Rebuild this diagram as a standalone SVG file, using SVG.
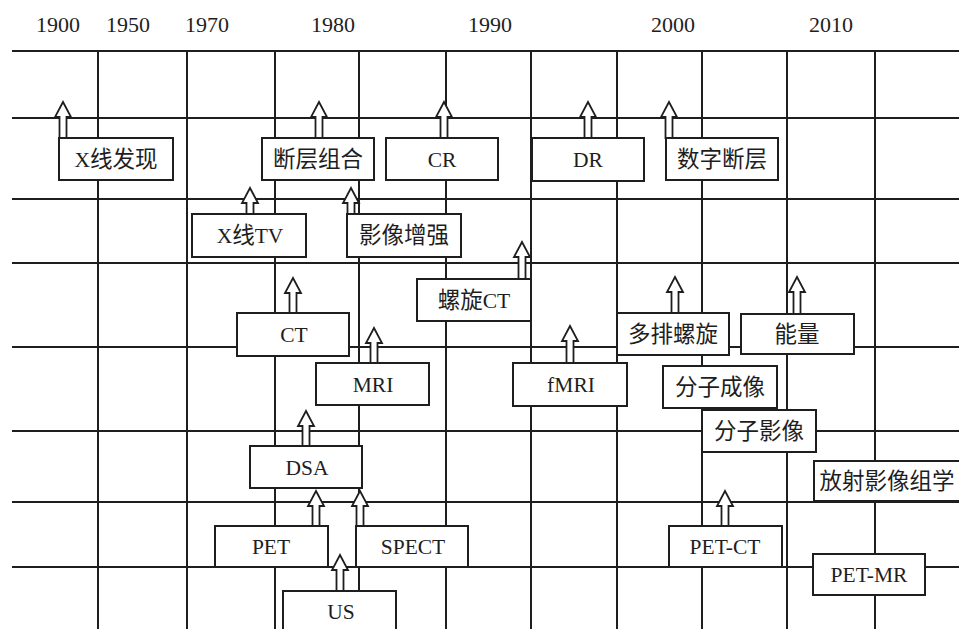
<svg xmlns="http://www.w3.org/2000/svg" width="959" height="629" viewBox="0 0 959 629">
<style>
.grid line{stroke:#1e1e1e;stroke-width:2}
.box{fill:#fff;stroke:#1e1e1e;stroke-width:2}
.t{font-family:"Liberation Serif","Noto Sans CJK SC",serif;font-size:21.5px;fill:#1e1e1e;text-anchor:middle}
.zh{font-family:"Noto Sans CJK SC","Liberation Serif",sans-serif;font-size:22.5px;font-weight:400}
.yr{font-family:"Liberation Serif",serif;font-size:22px;fill:#1e1e1e;text-anchor:middle}
.arr{fill:#fff;stroke:#1e1e1e;stroke-width:1.8;stroke-linejoin:miter}
</style>
<rect width="959" height="629" fill="#fff"/>
<g id="years">
<text class="yr" x="58" y="32">1900</text>
<text class="yr" x="128" y="32">1950</text>
<text class="yr" x="207" y="32">1970</text>
<text class="yr" x="333" y="32">1980</text>
<text class="yr" x="490" y="32">1990</text>
<text class="yr" x="673" y="32">2000</text>
<text class="yr" x="831" y="32">2010</text>
</g>
<g class="grid" id="grid">
<line x1="12" y1="51" x2="959" y2="51"/>
<line x1="12" y1="118" x2="959" y2="118"/>
<line x1="12" y1="199" x2="959" y2="199"/>
<line x1="12" y1="263" x2="959" y2="263"/>
<line x1="12" y1="347" x2="959" y2="347"/>
<line x1="12" y1="431" x2="959" y2="431"/>
<line x1="12" y1="502" x2="959" y2="502"/>
<line x1="12" y1="567" x2="959" y2="567"/>
<line x1="98" y1="51" x2="98" y2="629"/>
<line x1="187" y1="51" x2="187" y2="629"/>
<line x1="275" y1="51" x2="275" y2="629"/>
<line x1="359" y1="51" x2="359" y2="629"/>
<line x1="446" y1="51" x2="446" y2="629"/>
<line x1="531" y1="51" x2="531" y2="629"/>
<line x1="617" y1="51" x2="617" y2="629"/>
<line x1="702" y1="51" x2="702" y2="629"/>
<line x1="787" y1="51" x2="787" y2="629"/>
<line x1="875" y1="51" x2="875" y2="629"/>
</g>
<g id="connectors">
<polygon class="arr" points="63,102 71,117 66.5,117 66.5,138 59.5,138 59.5,117 55,117"/>
<polygon class="arr" points="319,102 327,117 322.5,117 322.5,138 315.5,138 315.5,117 311,117"/>
<polygon class="arr" points="444,102 452,117 447.5,117 447.5,138 440.5,138 440.5,117 436,117"/>
<polygon class="arr" points="588,102 596,117 591.5,117 591.5,138 584.5,138 584.5,117 580,117"/>
<polygon class="arr" points="669,102 677,117 672.5,117 672.5,138 665.5,138 665.5,117 661,117"/>
<polygon class="arr" points="250,188 258,203 253.5,203 253.5,214 246.5,214 246.5,203 242,203"/>
<polygon class="arr" points="351,188 359,203 354.5,203 354.5,214 347.5,214 347.5,203 343,203"/>
<polygon class="arr" points="522,242 530,257 525.5,257 525.5,279 518.5,279 518.5,257 514,257"/>
<polygon class="arr" points="293,278 301,293 296.5,293 296.5,313 289.5,313 289.5,293 285,293"/>
<polygon class="arr" points="374,328 382,343 377.5,343 377.5,363 370.5,363 370.5,343 366,343"/>
<polygon class="arr" points="675,277 683,292 678.5,292 678.5,313 671.5,313 671.5,292 667,292"/>
<polygon class="arr" points="797,277 805,292 800.5,292 800.5,314 793.5,314 793.5,292 789,292"/>
<polygon class="arr" points="570,326 578,341 573.5,341 573.5,363 566.5,363 566.5,341 562,341"/>
<polygon class="arr" points="306,411 314,426 309.5,426 309.5,446 302.5,446 302.5,426 298,426"/>
<polygon class="arr" points="316,491 324,506 319.5,506 319.5,526 312.5,526 312.5,506 308,506"/>
<polygon class="arr" points="360,491 368,506 363.5,506 363.5,526 356.5,526 356.5,506 352,506"/>
<polygon class="arr" points="725,491 733,506 728.5,506 728.5,526 721.5,526 721.5,506 717,506"/>
<polygon class="arr" points="340,555 348,570 343.5,570 343.5,591 336.5,591 336.5,570 332,570"/>
</g>
<g id="n-xray"><rect class="box" x="59" y="138" width="114" height="42"/><text class="t" x="116" y="167"><tspan>X</tspan><tspan class="zh">线发现</tspan></text></g>
<g id="n-tomo"><rect class="box" x="262" y="138" width="112" height="42"/><text class="t zh" x="318" y="167">断层组合</text></g>
<g id="n-cr"><rect class="box" x="386" y="138" width="112" height="42"/><text class="t" x="442" y="167">CR</text></g>
<g id="n-dr"><rect class="box" x="532" y="138" width="112" height="43"/><text class="t" x="588" y="167">DR</text></g>
<g id="n-dt"><rect class="box" x="666" y="138" width="112" height="42"/><text class="t zh" x="722" y="167">数字断层</text></g>
<g id="n-xtv"><rect class="box" x="192" y="214" width="114" height="43"/><text class="t" x="250" y="243"><tspan>X</tspan><tspan class="zh">线</tspan><tspan>TV</tspan></text></g>
<g id="n-ii"><rect class="box" x="347" y="214" width="114" height="43"/><text class="t zh" x="404" y="243">影像增强</text></g>
<g id="n-sct"><rect class="box" x="417" y="279" width="114" height="42"/><text class="t" x="474" y="308"><tspan class="zh">螺旋</tspan><tspan>CT</tspan></text></g>
<g id="n-ct"><rect class="box" x="237" y="313" width="112" height="43"/><text class="t" x="294" y="342">CT</text></g>
<g id="n-msct"><rect class="box" x="617" y="313" width="112" height="42"/><text class="t zh" x="673" y="342">多排螺旋</text></g>
<g id="n-energy"><rect class="box" x="741" y="314" width="113" height="40"/><text class="t zh" x="797" y="342">能量</text></g>
<g id="n-mri"><rect class="box" x="316" y="363" width="113" height="42"/><text class="t" x="373" y="392">MRI</text></g>
<g id="n-fmri"><rect class="box" x="513" y="363" width="114" height="43"/><text class="t" x="571" y="392">fMRI</text></g>
<g id="n-mi1"><rect class="box" x="663" y="366" width="114" height="42"/><text class="t zh" x="720" y="395">分子成像</text></g>
<g id="n-mi2"><rect class="box" x="702" y="410" width="114" height="42"/><text class="t zh" x="759" y="439">分子影像</text></g>
<g id="n-dsa"><rect class="box" x="250" y="446" width="112" height="42"/><text class="t" x="307" y="475">DSA</text></g>
<g id="n-radiomics"><rect class="box" x="814" y="461" width="147" height="40"/><text class="t zh" x="887" y="489">放射影像组学</text></g>
<g id="n-pet"><rect class="box" x="215" y="526" width="113" height="41"/><text class="t" x="271" y="554">PET</text></g>
<g id="n-spect"><rect class="box" x="356" y="526" width="112" height="41"/><text class="t" x="413" y="554">SPECT</text></g>
<g id="n-petct"><rect class="box" x="669" y="526" width="113" height="41"/><text class="t" x="725" y="554">PET-CT</text></g>
<g id="n-petmr"><rect class="box" x="813" y="554" width="112" height="41"/><text class="t" x="869" y="582">PET-MR</text></g>
<g id="n-us"><rect class="box" x="283" y="591" width="113" height="50"/><text class="t" x="341" y="619">US</text></g>
</svg>
